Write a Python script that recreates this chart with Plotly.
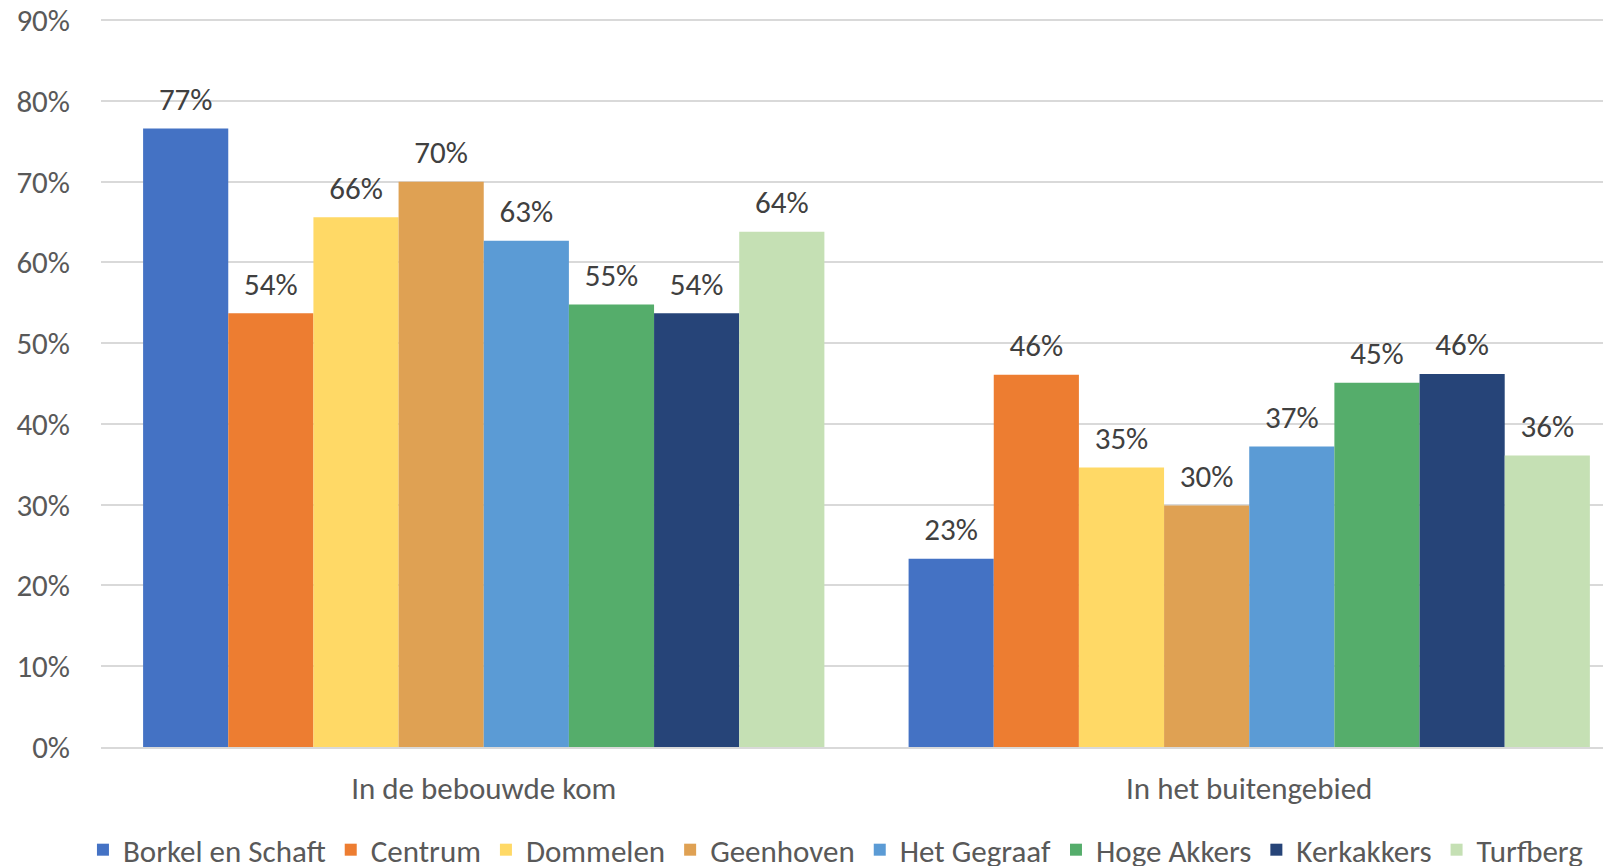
import plotly.graph_objects as go

CATEGORIES = ["In de bebouwde kom", "In het buitengebied"]

WIJKEN = [
    "Borkel en Schaft",
    "Centrum",
    "Dommelen",
    "Geenhoven",
    "Het Gegraaf",
    "Hoge Akkers",
    "Kerkakkers",
    "Turfberg",
]

# share per wijk: [bebouwde kom, buitengebied]
BORKEL = [0.766, 0.233]
CENTRUM = [0.537, 0.461]
DOMMELEN = [0.656, 0.346]
GEENHOVEN = [0.700, 0.299]
GEGRAAF = [0.627, 0.372]
HOGE_AKKERS = [0.548, 0.451]
KERKAKKERS = [0.537, 0.462]
TURFBERG = [0.638, 0.361]

VALUES = [BORKEL, CENTRUM, DOMMELEN, GEENHOVEN, GEGRAAF, HOGE_AKKERS, KERKAKKERS, TURFBERG]

Y_TICKS = [0, 0.1, 0.2, 0.3, 0.4, 0.5, 0.6, 0.7, 0.8, 0.9]

COLORS = [
    "#4472C4",
    "#ED7D31",
    "#FFD966",
    "#DFA153",
    "#5B9BD5",
    "#55AD6B",
    "#264478",
    "#C5E0B4",
]

FONT = "Calibri, Carlito, Roboto, sans-serif"
GAP = 0.11

# the page body has an 8px margin, so the figure is a bit smaller than the window
fig = go.Figure()
for name, vals, color in zip(WIJKEN, VALUES, COLORS):
    fig.add_trace(
        go.Bar(
            x=CATEGORIES,
            y=vals,
            name=name,
            offsetgroup=name,
            marker={"color": color, "line": {"width": 0}},
            hovertemplate=f"{name}<br>%{{x}}: %{{y:.0%}}<extra></extra>",
        )
    )

# value labels as grouped text points, so they sit a little higher than bar text
for name, vals in zip(WIJKEN, VALUES):
    fig.add_trace(
        go.Scatter(
            x=CATEGORIES,
            y=vals,
            mode="markers+text",
            offsetgroup=name,
            text=[f"{v:.0%}" for v in vals],
            textposition="top center",
            textfont={"color": "#404040", "size": 31, "family": FONT},
            marker={"size": 16, "opacity": 0},
            showlegend=False,
            hoverinfo="skip",
            cliponaxis=False,
        )
    )

fig.update_layout(
    width=1603,
    height=858,
    barmode="group",
    bargap=GAP,
    bargroupgap=0,
    scattermode="group",
    scattergap=GAP,
    plot_bgcolor="white",
    paper_bgcolor="white",
    margin={"l": 93, "r": 0, "t": 11, "b": 119, "autoexpand": False},
    font={"family": FONT, "size": 31, "color": "#595959"},
    showlegend=True,
    legend={
        "orientation": "h",
        "x": 0.5165,
        "xanchor": "center",
        "xref": "container",
        "y": 0.0186,
        "yanchor": "middle",
        "yref": "container",
        "font": {"size": 31, "color": "#595959"},
        "itemwidth": 30,
        "tracegroupgap": 0,
    },
)

fig.update_xaxes(
    range=[-0.5, 1.4726],
    showline=True,
    linecolor="#d9d9d9",
    linewidth=2,
    ticks="",
    automargin=False,
    ticklabelstandoff=13,
    tickfont={"size": 31, "color": "#595959"},
)
fig.update_yaxes(
    range=[0, 0.9015],
    tickvals=Y_TICKS,
    tickformat=".0%",
    showgrid=True,
    gridcolor="#d9d9d9",
    gridwidth=2,
    zeroline=False,
    automargin=False,
    ticklabelstandoff=30,
    ticklabeloverflow="allow",
    tickfont={"size": 31, "color": "#595959"},
)

fig.write_html("out.html")
